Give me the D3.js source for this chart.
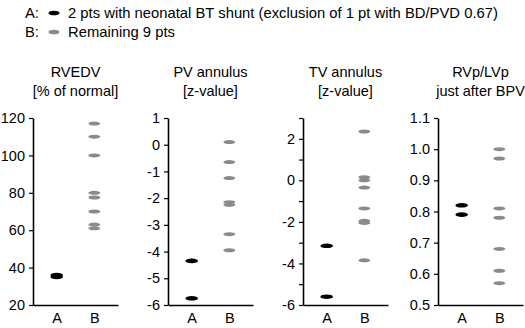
<!DOCTYPE html>
<html>
<head>
<meta charset="utf-8">
<script src="https://cdn.jsdelivr.net/npm/d3@7"></script>
<style>
  body { margin: 0; background: #fff; }
  svg text { font-family: "Liberation Sans", Arial, sans-serif; fill: #000; }
  .axis path, .axis line { stroke: #000; }
</style>
</head>
<body>
<div id="chart"></div>
<script>
// group labels shared by all four panels
const groups = ["A", "B"];

// panel titles (two lines each)
const titles = [
    ["RVEDV", "[% of normal]"],
    ["PV annulus", "[z-value]"],
    ["TV annulus", "[z-value]"],
    ["RVp/LVp", "just after BPV"]
];

// RVEDV [% of normal]
const rvedvA = [35, 36];
const rvedvB = [117, 110, 100, 80, 77.5, 70, 63, 61];

// PV annulus z-value
const pvA = [-4.35, -5.75];
const pvB = [0.1, -0.65, -1.25, -2.15, -2.25, -3.35, -3.95];

// TV annulus z-value
const tvA = [-3.15, -5.6];
const tvB = [2.35, 0.15, 0.0, -0.35, -1.35, -1.95, -2.05, -3.85];

// RVp/LVp just after BPV
const ratioA = [0.82, 0.79];
const ratioB = [1.0, 0.97, 0.81, 0.78, 0.68, 0.61, 0.57];

// axis domains and tick values
const domains = [[20, 120], [-6, 1], [-6, 3], [0.5, 1.1]];
const tickVals = [
    [20, 40, 60, 80, 100, 120],
    [-6, -5, -4, -3, -2, -1, 0, 1],
    [-6, -5, -4, -3, -2, -1, 0, 1, 2, 3],
    [0.5, 0.6, 0.7, 0.8, 0.9, 1.0, 1.1]
];
const tickFormats = [
    d => d,
    d => d,
    d => (d % 2 === 0 ? d : ""),
    d => d3.format(".1f")(d)
];

const legendItems = [
    { key: "A:", text: "2 pts with neonatal BT shunt (exclusion of 1 pt with BD/PVD 0.67)" },
    { key: "B:", text: "Remaining 9 pts" }
];

const seriesA = [rvedvA, pvA, tvA, ratioA];
const seriesB = [rvedvB, pvB, tvB, ratioB];

const width = 525, height = 328;
const colors = { A: "#000000", B: "#8a8a8a" };

const svg = d3.select("#chart").append("svg")
    .attr("width", width)
    .attr("height", height);

// legend at the top
const legend = svg.append("g").attr("class", "legend");
legendItems.forEach((item, i) => {
    const y = 13 + i * 19;
    legend.append("text")
        .attr("x", 25).attr("y", y)
        .attr("dy", "0.35em")
        .attr("font-size", "14.8px")
        .text(item.key);
    legend.append("ellipse")
        .attr("cx", 54).attr("cy", y)
        .attr("rx", 5.5).attr("ry", 2.3)
        .attr("fill", colors[groups[i]]);
    legend.append("text")
        .attr("x", 68).attr("y", y)
        .attr("dy", "0.35em")
        .attr("font-size", "14.8px")
        .text(item.text);
});

// four small strip plots side by side
const plotTop = 118, plotBottom = 305, plotWidth = 85;
const panelLeft = i => 33 + i * 135;

titles.forEach((title, i) => {
    const g = svg.append("g")
        .attr("transform", `translate(${panelLeft(i)},0)`);

    const x = d3.scalePoint()
        .domain(groups)
        .range([0, plotWidth])
        .padding(0.63);

    const y = d3.scaleLinear()
        .domain(domains[i])
        .range([plotBottom, plotTop]);

    // title
    g.append("text")
        .attr("text-anchor", "middle")
        .attr("x", plotWidth / 2)
        .attr("y", 77)
        .attr("font-size", "14.5px")
        .selectAll("tspan")
        .data(title)
        .join("tspan")
        .attr("x", plotWidth / 2)
        .attr("dy", (d, j) => j === 0 ? 0 : "1.3em")
        .text(d => d);

    // y axis
    const yAxis = g.append("g")
        .attr("class", "axis")
        .call(d3.axisLeft(y)
            .tickValues(tickVals[i])
            .tickFormat(tickFormats[i])
            .tickSize(4)
            .tickSizeOuter(0)
            .tickPadding(4));
    yAxis.select(".domain").attr("stroke-width", 1.6);
    yAxis.selectAll(".tick line").attr("stroke-width", 1.2);
    yAxis.selectAll(".tick text")
        .attr("font-size", "14.5px")
        .attr("font-family", "Liberation Sans, Arial, sans-serif")
        .attr("fill", "#000");

    // x axis
    const xAxis = g.append("g")
        .attr("class", "axis")
        .attr("transform", `translate(0,${plotBottom})`)
        .call(d3.axisBottom(x).tickSize(0).tickPadding(8));
    xAxis.select(".domain").attr("stroke-width", 1.6);
    xAxis.selectAll(".tick text")
        .attr("font-size", "14.5px")
        .attr("font-family", "Liberation Sans, Arial, sans-serif")
        .attr("fill", "#000");

    // patient markers
    const points = [
        ...seriesA[i].map(v => ({ group: "A", value: v })),
        ...seriesB[i].map(v => ({ group: "B", value: v }))
    ];
    g.selectAll(".dot")
        .data(points)
        .join("ellipse")
        .attr("class", "dot")
        .attr("cx", d => x(d.group))
        .attr("cy", d => y(d.value))
        .attr("rx", d => d.group === "A" ? 6.3 : 6)
        .attr("ry", d => d.group === "A" ? 2.3 : 2)
        .attr("fill", d => colors[d.group]);
});
</script>
</body>
</html>
